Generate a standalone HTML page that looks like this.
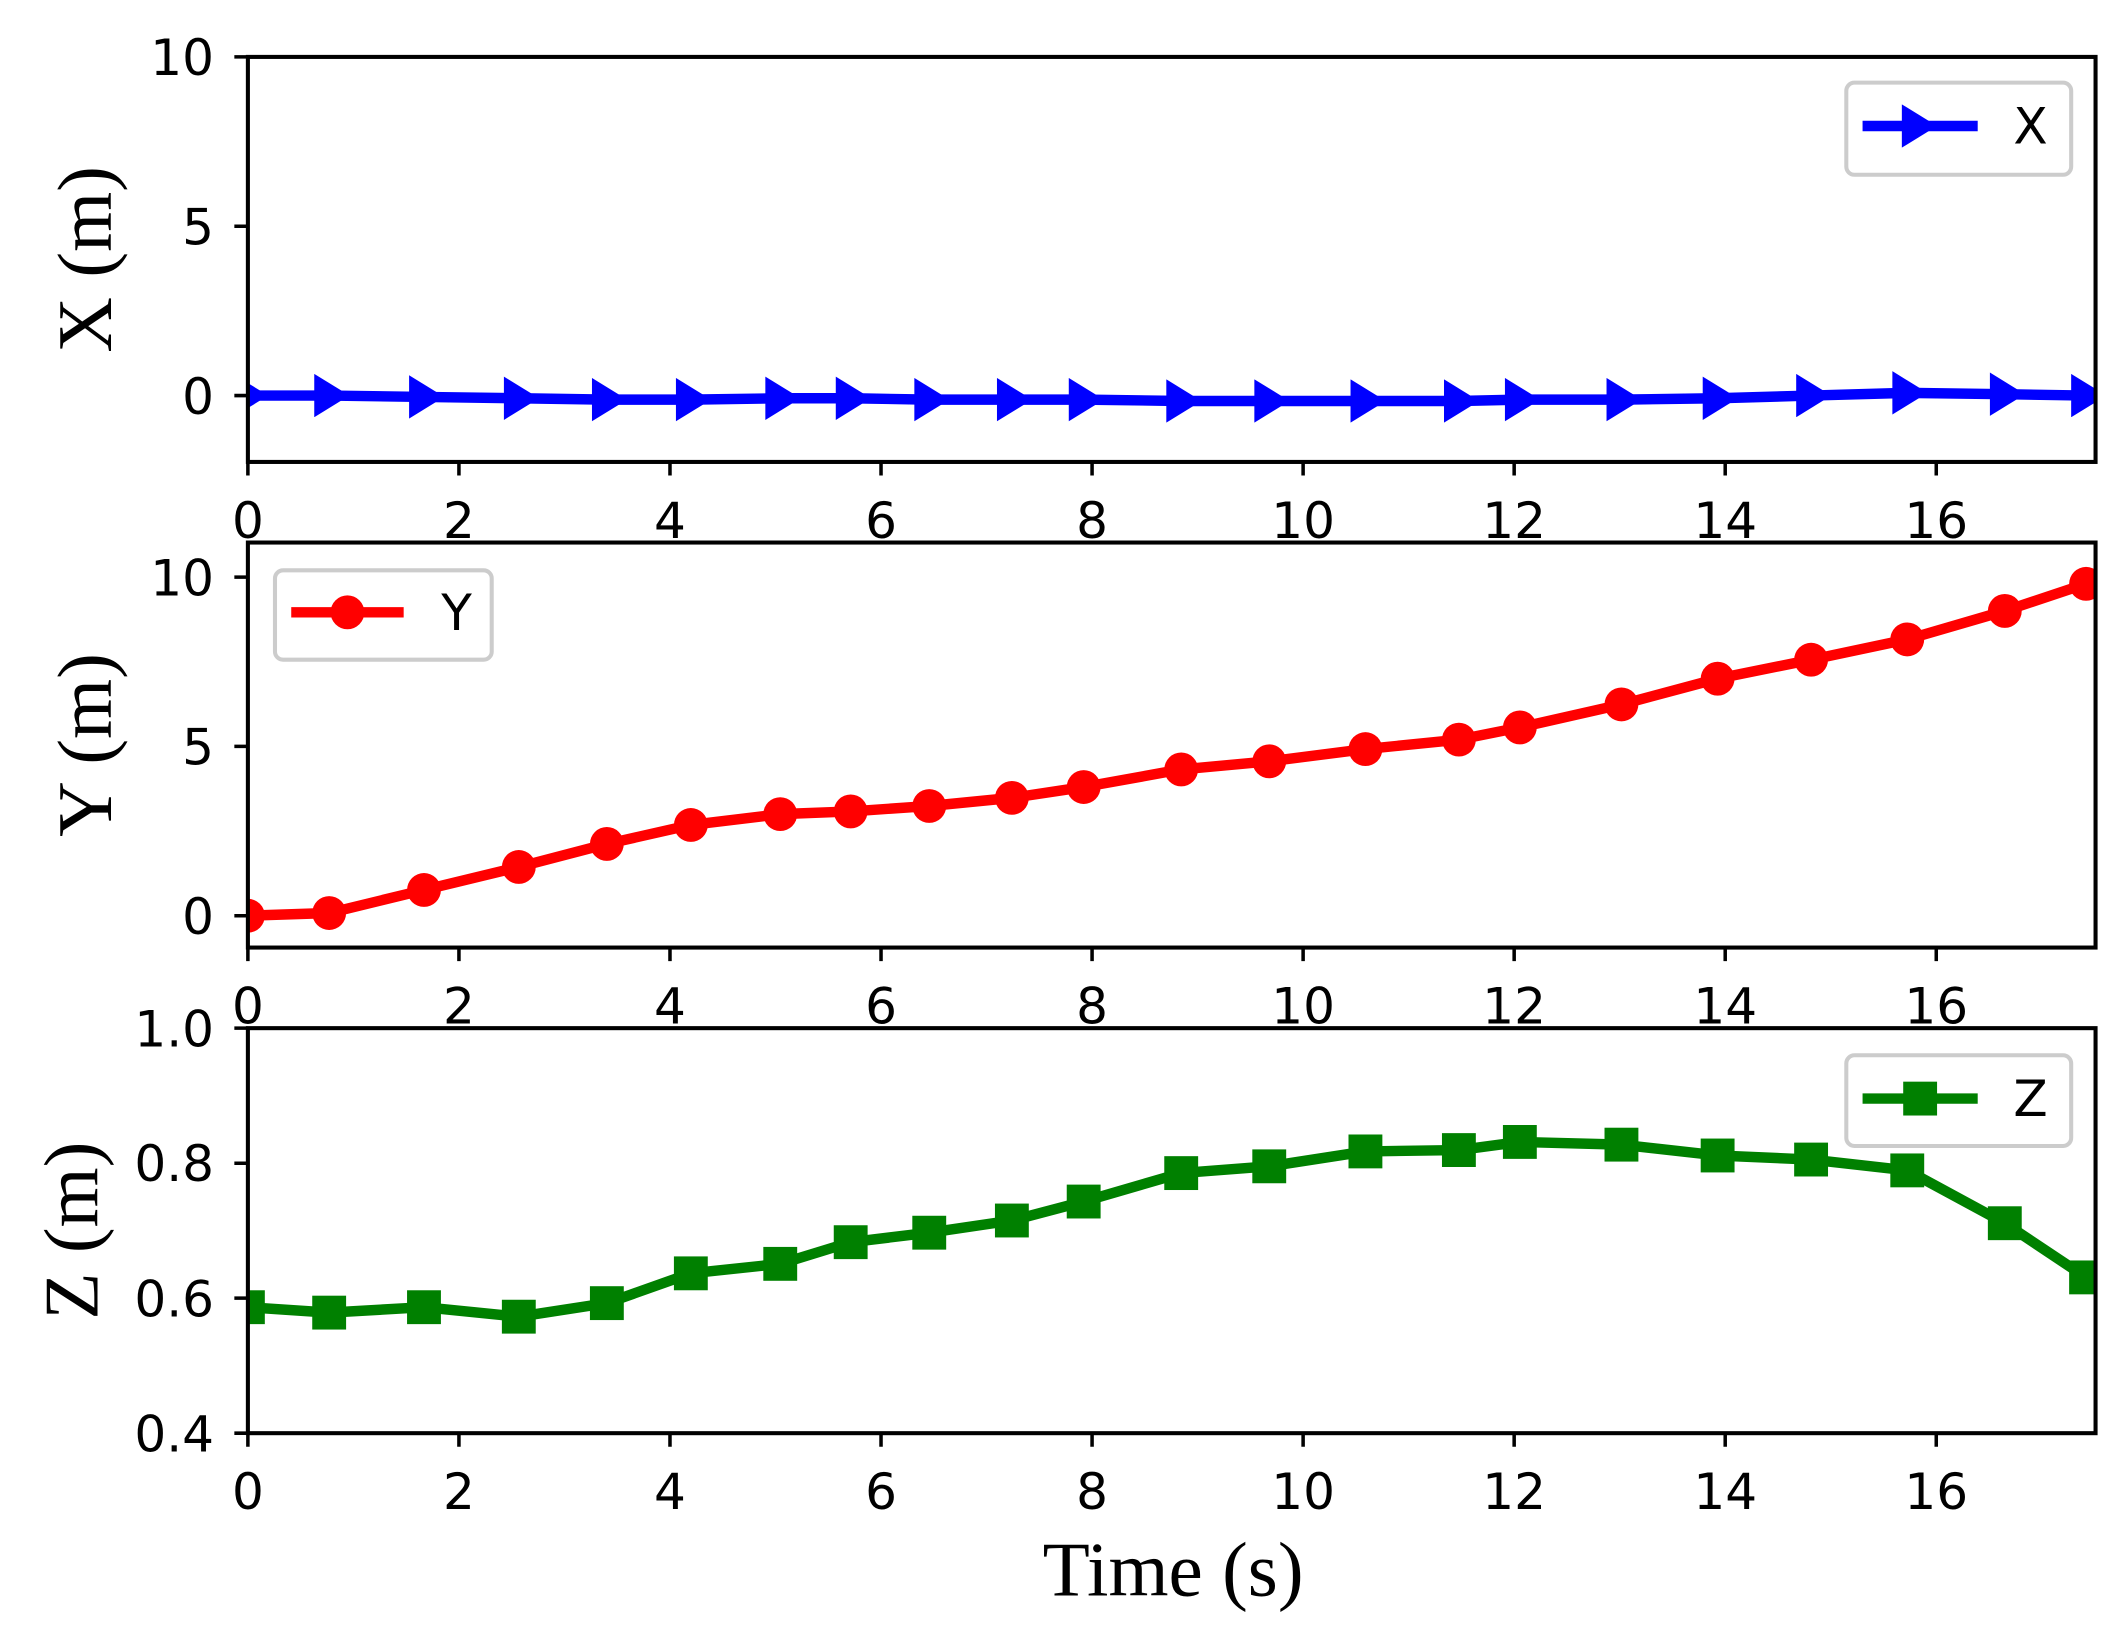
<!DOCTYPE html>
<html><head><meta charset="utf-8"><style>html,body{margin:0;padding:0;background:#fff}svg{display:block}</style></head>
<body>
<svg width="2124" height="1633" viewBox="0 0 1568 1205.5" xmlns="http://www.w3.org/2000/svg">
<defs>
<clipPath id="c1"><rect x="183" y="42" width="1364" height="299"/></clipPath>
<clipPath id="c2"><rect x="183" y="400.5" width="1364" height="299"/></clipPath>
<clipPath id="c3"><rect x="183" y="759" width="1364" height="299"/></clipPath>
<marker id="tri" viewBox="-12 -16 28 32" markerWidth="28" markerHeight="32" refX="0" refY="0" markerUnits="userSpaceOnUse"><polygon points="-11,-16 15,0 -11,16" fill="#0000ff"/></marker>
<marker id="cir" viewBox="-13 -13 26 26" markerWidth="26" markerHeight="26" refX="0" refY="0" markerUnits="userSpaceOnUse"><circle r="12.5" fill="#ff0000"/></marker>
<marker id="sq" viewBox="-13 -13 26 26" markerWidth="26" markerHeight="26" refX="0" refY="0" markerUnits="userSpaceOnUse"><rect x="-12.5" y="-12.5" width="25" height="25" fill="#008000"/></marker>
</defs>
<rect width="1568" height="1205.5" fill="#fff"/>

<!-- series -->
<g clip-path="url(#c1)"><polyline fill="none" stroke="#0000ff" stroke-width="7.7" stroke-linejoin="round" marker-start="url(#tri)" marker-mid="url(#tri)" marker-end="url(#tri)" points="183,292 243,292 313,293 383,294 448,295 510,295 576,294 628,294 686,295 747,295 800,295 872,296 937,296 1008,296 1077,296 1122,295 1197,295 1268,294 1337,292 1408,290 1480,291 1540,292"/></g>
<g clip-path="url(#c2)"><polyline fill="none" stroke="#ff0000" stroke-width="7.7" stroke-linejoin="round" marker-start="url(#cir)" marker-mid="url(#cir)" marker-end="url(#cir)" points="183,676 243,674 313,657 383,640 448,623 510,609 576,601 628,599 686,595 747,589 800,581 872,568 937,562 1008,553 1077,546 1122,537 1197,520 1268,501 1337,487 1408,472 1480,451 1540,431"/></g>
<g clip-path="url(#c3)"><polyline fill="none" stroke="#008000" stroke-width="7.7" stroke-linejoin="round" marker-start="url(#sq)" marker-mid="url(#sq)" marker-end="url(#sq)" points="183,965 243,969 313,965 383,972 448,962 510,940 576,933 628,917 686,910 747,901 800,887 872,866 937,861 1008,850 1077,849 1122,843 1197,845 1268,853 1337,856 1408,864 1480,903 1540,943"/></g>

<!-- axes frames -->
<g fill="none" stroke="#000" stroke-width="3">
<rect x="183" y="42" width="1364" height="299"/>
<rect x="183" y="400.5" width="1364" height="299"/>
<rect x="183" y="759" width="1364" height="299"/>
</g>
<!-- ticks -->
<g stroke="#000" stroke-width="2.6">
<path d="M183,341v10M338.8,341v10M494.6,341v10M650.4,341v10M806.2,341v10M962,341v10M1117.8,341v10M1273.6,341v10M1429.4,341v10"/>
<path d="M183,699.5v10M338.8,699.5v10M494.6,699.5v10M650.4,699.5v10M806.2,699.5v10M962,699.5v10M1117.8,699.5v10M1273.6,699.5v10M1429.4,699.5v10"/>
<path d="M183,1058v10M338.8,1058v10M494.6,1058v10M650.4,1058v10M806.2,1058v10M962,1058v10M1117.8,1058v10M1273.6,1058v10M1429.4,1058v10"/>
<path d="M183,42h-10M183,167h-10M183,292h-10"/>
<path d="M183,426h-10M183,551h-10M183,676h-10"/>
<path d="M183,759h-10M183,858.7h-10M183,958.3h-10M183,1058h-10"/>
</g>

<g font-family="DejaVu Sans, sans-serif" font-size="37" fill="#000">
<g text-anchor="middle">
<text x="183" y="397">0</text><text x="338.8" y="397">2</text><text x="494.6" y="397">4</text><text x="650.4" y="397">6</text><text x="806.2" y="397">8</text><text x="962" y="397">10</text><text x="1117.8" y="397">12</text><text x="1273.6" y="397">14</text><text x="1429.4" y="397">16</text>
<text x="183" y="755.5">0</text><text x="338.8" y="755.5">2</text><text x="494.6" y="755.5">4</text><text x="650.4" y="755.5">6</text><text x="806.2" y="755.5">8</text><text x="962" y="755.5">10</text><text x="1117.8" y="755.5">12</text><text x="1273.6" y="755.5">14</text><text x="1429.4" y="755.5">16</text>
<text x="183" y="1114">0</text><text x="338.8" y="1114">2</text><text x="494.6" y="1114">4</text><text x="650.4" y="1114">6</text><text x="806.2" y="1114">8</text><text x="962" y="1114">10</text><text x="1117.8" y="1114">12</text><text x="1273.6" y="1114">14</text><text x="1429.4" y="1114">16</text>
</g>
<g text-anchor="end">
<text x="158" y="55.5">10</text><text x="158" y="180.5">5</text><text x="158" y="305.5">0</text>
<text x="158" y="439.5">10</text><text x="158" y="564.5">5</text><text x="158" y="689.5">0</text>
<text x="158" y="772.5">1.0</text><text x="158" y="872">0.8</text><text x="158" y="972">0.6</text><text x="158" y="1071.5">0.4</text>
</g>
</g>

<!-- axis labels -->
<g font-family="Liberation Serif, serif" font-size="57" fill="#000" text-anchor="middle">
<text transform="translate(82,191.5) rotate(-90)">X (m)</text>
<text transform="translate(82,550) rotate(-90)">Y (m)</text>
<text transform="translate(72,908.5) rotate(-90)">Z (m)</text>
<text x="866" y="1178">Time (s)</text>
</g>

<!-- legends -->
<g fill="#fff" stroke="#cccccc" stroke-width="3">
<rect x="1363" y="61" width="166" height="68" rx="6"/>
<rect x="203" y="421" width="160" height="66" rx="6"/>
<rect x="1363" y="779" width="166" height="67" rx="6"/>
</g>
<line x1="1375" y1="93" x2="1460" y2="93" stroke="#0000ff" stroke-width="7.7"/>
<polygon points="1404,77 1430,93 1404,109" fill="#0000ff"/>
<line x1="215" y1="452" x2="298" y2="452" stroke="#ff0000" stroke-width="7.7"/>
<circle cx="256.5" cy="452" r="12.5" fill="#ff0000"/>
<line x1="1375" y1="811" x2="1460" y2="811" stroke="#008000" stroke-width="7.7"/>
<rect x="1405" y="798.5" width="25" height="25" fill="#008000"/>
<g font-family="DejaVu Sans, sans-serif" font-size="37" fill="#000" text-anchor="middle">
<text x="1499" y="106">X</text>
<text x="337" y="465">Y</text>
<text x="1499" y="824">Z</text>
</g>
</svg>
</body></html>
